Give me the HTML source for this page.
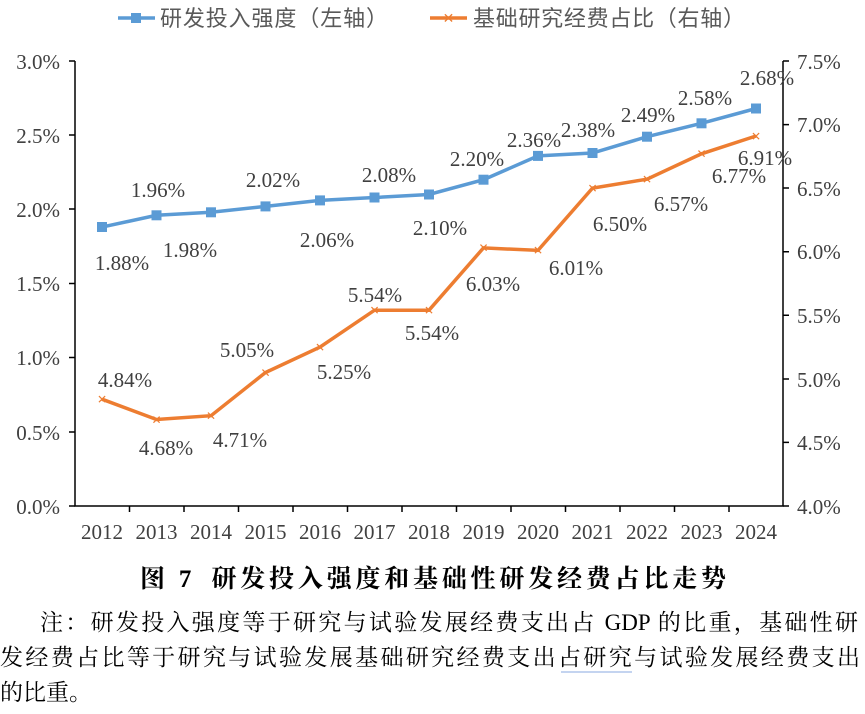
<!DOCTYPE html><html><head><meta charset="utf-8"><style>body{margin:0;background:#fff;width:865px;height:714px;overflow:hidden}
svg text{font-family:"Liberation Serif","Noto Serif CJK SC",serif}
.t{position:absolute;font-family:"Liberation Serif","Noto Serif CJK SC",serif;color:#000;font-size:23px;white-space:nowrap}
.j{text-align:justify;text-align-last:justify}
</style></head><body>
<svg width="865" height="714" style="position:absolute;left:0;top:0">
<g font-size="22" fill="#595959">
<line x1="118" y1="18" x2="155" y2="18" stroke="#5B9BD5" stroke-width="3.5"/><rect x="131" y="13" width="10" height="10" fill="#5B9BD5"/>
<text x="160" y="26" textLength="228" style="font-family:'Noto Sans CJK SC',sans-serif">研发投入强度（左轴）</text>
<line x1="430" y1="18" x2="467" y2="18" stroke="#ED7D31" stroke-width="3.5"/><text x="448.5" y="23" text-anchor="middle" fill="#ED7D31" font-size="14" style="font-family:'DejaVu Sans',sans-serif">✕</text>
<text x="473" y="26" textLength="272" style="font-family:'Noto Sans CJK SC',sans-serif">基础研究经费占比（右轴）</text>
</g>
<g stroke="#000" stroke-width="1.5" fill="none">
<path d="M75 61V506H783V61"/>
<path d="M69 61H75M69 135H75M69 209H75M69 283.5H75M69 357.5H75M69 432H75M69 506H75"/>
<path d="M783 61H789M783 124.6H789M783 188H789M783 251.7H789M783 315.3H789M783 379H789M783 442.4H789M783 506H789"/>
<path d="M129.5 506v6M184 506v6M238.5 506v6M293 506v6M347.5 506v6M402 506v6M456.5 506v6M511 506v6M565.5 506v6M620 506v6M674.5 506v6M729 506v6"/>
</g>
<g font-size="21" fill="#404040">
<g text-anchor="end"><text x="60" y="69">3.0%</text><text x="60" y="143">2.5%</text><text x="60" y="217">2.0%</text><text x="60" y="291">1.5%</text><text x="60" y="365">1.0%</text><text x="60" y="440">0.5%</text><text x="60" y="514">0.0%</text></g>
<g><text x="797" y="69">7.5%</text><text x="797" y="132">7.0%</text><text x="797" y="196">6.5%</text><text x="797" y="259">6.0%</text><text x="797" y="323">5.5%</text><text x="797" y="387">5.0%</text><text x="797" y="450">4.5%</text><text x="797" y="514">4.0%</text></g>
<g text-anchor="middle"><text x="102" y="539">2012</text><text x="156.5" y="539">2013</text><text x="211" y="539">2014</text><text x="265.5" y="539">2015</text><text x="320" y="539">2016</text><text x="374.5" y="539">2017</text><text x="429" y="539">2018</text><text x="483.5" y="539">2019</text><text x="538" y="539">2020</text><text x="592.5" y="539">2021</text><text x="647" y="539">2022</text><text x="701.5" y="539">2023</text><text x="756" y="539">2024</text></g>
</g>
<polyline fill="none" stroke="#5B9BD5" stroke-width="3.5" points="102,227.1 156.5,215.3 211,212.3 265.5,206.4 320,200.4 374.5,197.5 429,194.5 483.5,179.7 538,155.9 592.5,153 647,136.7 701.5,123.3 756,108.5"/>
<g fill="#5B9BD5"><rect x="97" y="222" width="10" height="10"/><rect x="151.5" y="210.3" width="10" height="10"/><rect x="206" y="207.3" width="10" height="10"/><rect x="260.5" y="201.4" width="10" height="10"/><rect x="315" y="195.4" width="10" height="10"/><rect x="369.5" y="192.5" width="10" height="10"/><rect x="424" y="189.5" width="10" height="10"/><rect x="478.5" y="174.7" width="10" height="10"/><rect x="533" y="150.9" width="10" height="10"/><rect x="587.5" y="148" width="10" height="10"/><rect x="642" y="131.7" width="10" height="10"/><rect x="696.5" y="118.3" width="10" height="10"/><rect x="751" y="103.5" width="10" height="10"/></g>
<polyline fill="none" stroke="#ED7D31" stroke-width="3.5" points="102,399.2 156.5,419.5 211,415.7 265.5,372.5 320,347.1 374.5,310.2 429,310.2 483.5,247.9 538,250.4 592.5,188.1 647,179.2 701.5,153.8 756,136"/>
<g fill="#ED7D31" font-size="12" text-anchor="middle" style="font-family:'DejaVu Sans',sans-serif"><text x="102" y="403.5">✕</text><text x="156.5" y="423.8">✕</text><text x="211" y="420">✕</text><text x="265.5" y="376.8">✕</text><text x="320" y="351.4">✕</text><text x="374.5" y="314.5">✕</text><text x="429" y="314.5">✕</text><text x="483.5" y="252.2">✕</text><text x="538" y="254.7">✕</text><text x="592.5" y="192.4">✕</text><text x="647" y="183.5">✕</text><text x="701.5" y="158.1">✕</text><text x="756" y="140.3">✕</text></g>
<g font-size="21" fill="#404040" text-anchor="middle">
<text x="122" y="270">1.88%</text><text x="158" y="197">1.96%</text><text x="190" y="257">1.98%</text><text x="273" y="187">2.02%</text><text x="327" y="247">2.06%</text><text x="389" y="182">2.08%</text><text x="440" y="235">2.10%</text><text x="477" y="166">2.20%</text><text x="534" y="147">2.36%</text><text x="588" y="137">2.38%</text><text x="648" y="122">2.49%</text><text x="705" y="105">2.58%</text><text x="767" y="85">2.68%</text>
<text x="125" y="387">4.84%</text><text x="166" y="455">4.68%</text><text x="240" y="447">4.71%</text><text x="247" y="357">5.05%</text><text x="344" y="379">5.25%</text><text x="375" y="302">5.54%</text><text x="432" y="340">5.54%</text><text x="493" y="291">6.03%</text><text x="576" y="275">6.01%</text><text x="620" y="231">6.50%</text><text x="681" y="211">6.57%</text><text x="739" y="183">6.77%</text><text x="765" y="165">6.91%</text>
</g>
<line x1="561" y1="672" x2="632" y2="672" stroke="#8aa8e0" stroke-width="1"/>
</svg>
<div class="t j" style="left:140px;top:559px;width:586px;font-size:25px;font-weight:bold">图 7&nbsp; 研发投入强度和基础性研发经费占比走势</div>
<div class="t j" style="left:40px;top:604px;width:818px">注：研发投入强度等于研究与试验发展经费支出占 GDP 的比重，基础性研</div>
<div class="t j" style="left:0;top:639px;width:860px">发经费占比等于研究与试验发展基础研究经费支出占研究与试验发展经费支出</div>
<div class="t" style="left:0;top:674px">的比重。</div>
</body></html>
